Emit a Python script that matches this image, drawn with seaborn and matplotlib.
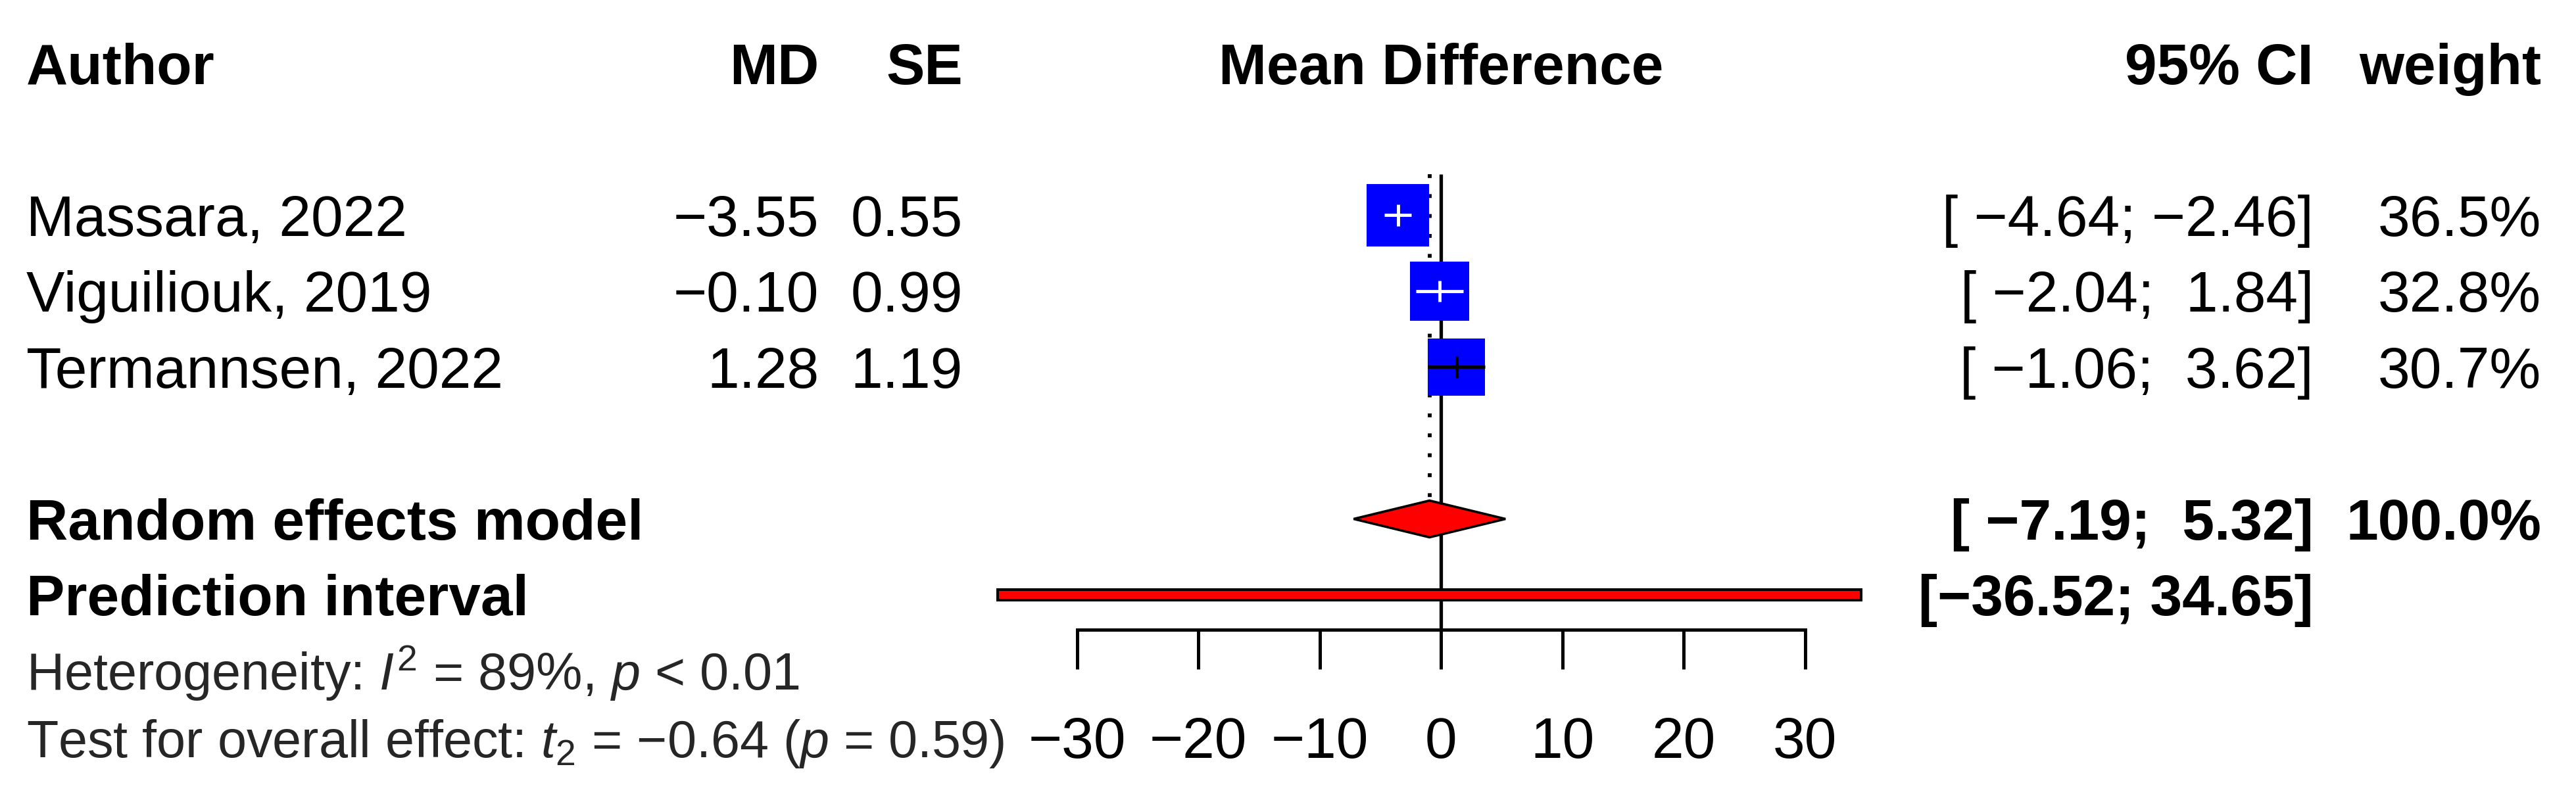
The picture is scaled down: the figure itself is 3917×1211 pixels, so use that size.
import numpy as np
import pandas as pd
import matplotlib
matplotlib.use("Agg")
import matplotlib.pyplot as plt
import matplotlib.transforms as mtransforms
import seaborn as sns

sns.set_theme(style="white")
plt.rcParams['font.family'] = ['Liberation Sans', 'DejaVu Sans']
plt.rcParams['mathtext.fontset'] = 'custom'
plt.rcParams['mathtext.rm'] = 'Liberation Sans'
plt.rcParams['mathtext.it'] = 'Liberation Sans:italic'
plt.rcParams['mathtext.bf'] = 'Liberation Sans:bold'
plt.rcParams['axes.unicode_minus'] = True

# data
authors = ["Massara, 2022", "Viguiliouk, 2019", "Termannsen, 2022"]
md = [-3.55, -0.10, 1.28]
se = [0.55, 0.99, 1.19]
ci_low = [-4.64, -2.04, -1.06]
ci_high = [-2.46, 1.84, 3.62]
weight = [36.5, 32.8, 30.7]

re_md = -0.94
re_low, re_high = -7.19, 5.32
re_weight = 100.0
pi_low, pi_high = -36.52, 34.65

i2 = 89
t_stat, t_df, p_overall = -0.64, 2, 0.59
xticks = [-30, -20, -10, 0, 10, 20, 30]


def fmt(v, width=0):
    return f"{v:.2f}".replace("-", "\u2212").rjust(width)


# layout (pixels of the 3917x1211 output)
W, H = 3917, 1211
zero_px, px_per_unit = 2191, 18.45
row0_px, row_px = 96.5, 115.5
study_rows = [2, 3, 4]
re_row, pi_row = 6, 7
axis_row = 7.459
base_off = 0.27
fs_main, fs_het = 63, 57

fig = plt.figure(figsize=(W / 100, H / 100), dpi=100)
ax = fig.add_axes([0, 0, 1, 1])

# study boxes, area proportional to weight
box_df = pd.DataFrame({"md": md, "row": study_rows, "weight": weight})
sns.scatterplot(data=box_df, x="md", y="row", size="weight",
                sizes=(0, 4680), size_norm=(0, max(weight)),
                marker="s", color="#0000FF", linewidth=0,
                legend=False, ax=ax, zorder=3)

# confidence interval lines inside the boxes
ci_colors = ["white", "white", "black"]
for r, m, lo, hi, c in zip(study_rows, md, ci_low, ci_high, ci_colors):
    ax.hlines(r, lo, hi, color=c, lw=3.5, zorder=4)
    ax.vlines(m, r - 0.139, r + 0.139, color=c, lw=3.5, zorder=4)

# line of no effect and random effects estimate
ax.vlines(0, 1.459, axis_row, color="black", lw=3.8, zorder=2)
ax.vlines(re_md, 1.459, re_row - 0.242, color="black", lw=4.2,
          linestyles=(0, (1, 4.2)), zorder=2)

# diamond
h = 0.242
ax.fill([re_low, re_md, re_high, re_md], [re_row, re_row - h, re_row, re_row + h],
        facecolor="#FF0000", edgecolor="black", lw=2.6, zorder=3)

# prediction interval bar
ph = 0.07
ax.fill([pi_low, pi_high, pi_high, pi_low],
        [pi_row - ph, pi_row - ph, pi_row + ph, pi_row + ph],
        facecolor="#FF0000", edgecolor="black", lw=2.9, zorder=3)

ax.set_xlim(-zero_px / px_per_unit, (W - zero_px) / px_per_unit)
ax.set_ylim((H - row0_px) / row_px, -row0_px / row_px)
ax.set_xlabel("")
ax.set_ylabel("")
ax.set_facecolor("white")

# x axis of the forest plot
for s in ["top", "left", "right"]:
    ax.spines[s].set_visible(False)
ax.spines["bottom"].set_position(("data", axis_row))
ax.spines["bottom"].set_bounds(xticks[0], xticks[-1])
ax.spines["bottom"].set_color("black")
ax.spines["bottom"].set_linewidth(3.6)
ax.set_yticks([])
ax.set_xticks(xticks)
ax.tick_params(axis="x", direction="out", length=43, width=3.6, colors="black",
               labelsize=63, pad=52, bottom=True)

# text columns: x in figure pixels, y in rows
tr = mtransforms.blended_transform_factory(fig.transFigure, ax.transData)


def put(px, row, s, ha="left", bold=False, fs=fs_main):
    ax.text(px / W, row + base_off, s, transform=tr, ha=ha, va="baseline",
            fontsize=fs, fontweight="bold" if bold else "normal", color="black")


col_author, col_md, col_se = 40, 1245, 1464
col_ci, col_w = 3518, 3864

put(col_author, 0, "Author", bold=True)
put(col_md, 0, "MD", ha="right", bold=True)
put(col_se, 0, "SE", ha="right", bold=True)
put(zero_px, 0, "Mean Difference", ha="center", bold=True)
put(col_ci, 0, "95% CI", ha="right", bold=True)
put(col_w, 0, "weight", ha="right", bold=True)

for r, a, m, e, lo, hi, w in zip(study_rows, authors, md, se, ci_low, ci_high, weight):
    put(col_author, r, a)
    put(col_md, r, fmt(m), ha="right")
    put(col_se, r, f"{e:.2f}", ha="right")
    put(col_ci, r, f"[{fmt(lo, 6)};{fmt(hi, 6)}]", ha="right")
    put(col_w, r, f"{w:.1f}%", ha="right")

put(col_author, re_row, "Random effects model", bold=True)
put(col_ci, re_row, f"[{fmt(re_low, 6)};{fmt(re_high, 6)}]", ha="right", bold=True)
put(col_w, re_row, f"{re_weight:.1f}%", ha="right", bold=True)

put(col_author, pi_row, "Prediction interval", bold=True)
put(col_ci, pi_row, f"[{fmt(pi_low)}; {fmt(pi_high)}]", ha="right", bold=True)

ax.text(col_author / W, 8.255, f"Heterogeneity: $I^2$ = {i2}%, $p$ < 0.01",
        transform=tr, ha="left", va="baseline", fontsize=fs_het)
ax.text(col_author / W, 9.14,
        f"Test for overall effect: $t_{t_df}$ = {fmt(t_stat)} ($p$ = {p_overall:.2f})",
        transform=tr, ha="left", va="baseline", fontsize=fs_het)

fig.savefig("out.png", dpi=100, facecolor="white")
